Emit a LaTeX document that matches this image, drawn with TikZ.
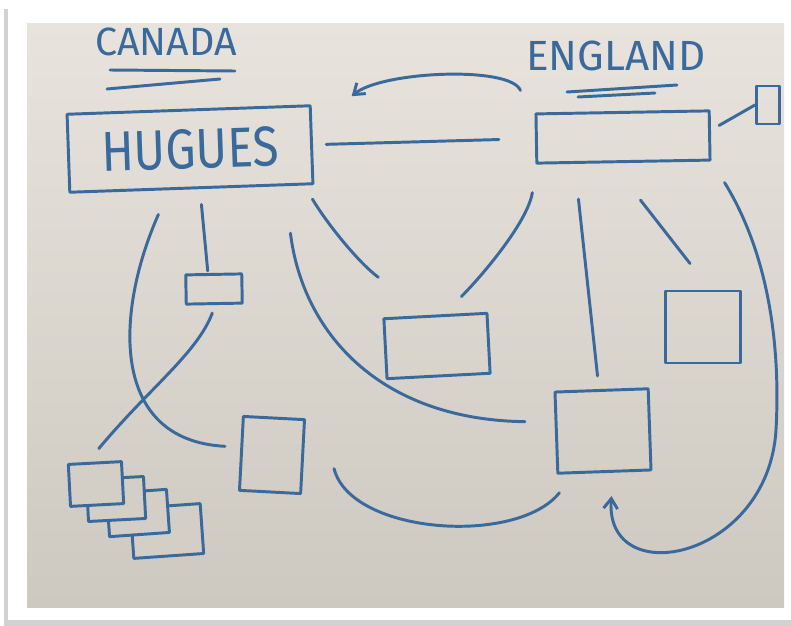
\documentclass[tikz,border=0pt]{standalone}
\usepackage{fontspec}
\setsansfont{Fira Sans}
\usetikzlibrary{arrows.meta, positioning, shadings}
\definecolor{paperlight}{HTML}{E8E3DC}
\definecolor{paperdark}{HTML}{CDC8C0}
\definecolor{paperlow}{HTML}{D3CEC6}
\definecolor{pen}{HTML}{3A6A9C}
\definecolor{framegray}{HTML}{D2D2D2}
\tikzset{sketch/.style={draw=pen, line width=2.1pt, line cap=round, line join=round}}
\tikzset{card/.style 2 args={sketch, minimum width=#1cm, minimum height=#2cm, inner sep=0pt}}
\tikzset{sheet/.style={fill=paperlow}}
\tikzset{country/.style={text=pen, font=\sffamily\fontsize{28}{28}\selectfont}}
\tikzset{bigname/.style={text=pen, font=\sffamily\fontsize{40}{40}\selectfont}}
\tikzset{pentip/.style={-{Straight Barb[length=2.5mm, width=3.5mm]}}}

\begin{document}
\begin{tikzpicture}[x=0.025cm, y=-0.025cm]
\useasboundingbox (0,0) rectangle (791,626);
% photo frame and sheet of paper
\fill[framegray] (4,9) rectangle (791,626);
\fill[white] (8,5) rectangle (791,620);
\shade[top color=paperlight, bottom color=paperdark] (27,23) rectangle (784,607);

% headings
\node[country] (canadalabel) at (166,42) {CANADA};
\node[country, font=\sffamily\fontsize{30}{30}\selectfont] (englandlabel) at (616,56) {ENGLAND};
\draw[sketch] (110,70) -- (235,71);
\draw[sketch] (107,89) -- (220,79);
\draw[sketch] (567,92) -- (677,85);
\draw[sketch] (578,97) -- (655,93);

% boxes
\node[card={6.08}{1.95}, rotate=2, bigname] (hugues) at (190,149) {\scalebox{0.85}[1]{HUGUES}};
\node[card={4.33}{1.23}, rotate=1] (england) at (623,137) {};
\node[card={0.58}{0.95}] (outpost) at (768,105) {};
\node[card={1.4}{0.73}, rotate=1] (relay) at (214,289) {};
\node[card={2.58}{1.5}, rotate=3] (middle) at (437,346) {};
\node[card={1.88}{1.8}] (corner) at (703,327) {};
\node[card={2.33}{2.03}, rotate=2] (hub) at (603,431) {};
\node[card={1.53}{1.85}, rotate=-3] (branch) at (272,455) {};

% stack of sheets, back to front
\node[card={1.75}{1.25}, sheet, rotate=4] (sheet4) at (167,531) {};
\node[card={1.5}{1.08}, sheet, rotate=4] (sheet3) at (138,513) {};
\node[card={1.43}{1.05}, sheet, rotate=3] (sheet2) at (116,499) {};
\node[card={1.33}{1.05}, sheet, rotate=3] (sheet1) at (96,484) {};

% links
\draw[sketch, shorten <=0.33cm, shorten >=0.9cm] (hugues.east) -- (england.west);
\draw[sketch, pentip] ([shift={(-14,-22)}]england.north west) .. controls +(-10,-25) and +(30,-25) .. ([shift={(40,-8)}]hugues.north east);
\draw[sketch] ([shift={(8,-10)}]england.east) -- (outpost.west);
\draw[sketch] ([shift={(10,15)}]hugues.south) -- ([shift={(-6,-2)}]relay.north);
\draw[sketch] ([shift={(-2,8)}]relay.south) .. controls +(-15,40) and +(50,-60) .. ([shift={(4,-13)}]sheet1.north);
\draw[sketch] ([shift={(-33,25)}]hugues.south) .. controls +(-43,97) and +(-116,-6) .. ([shift={(-15,-7)}]branch.west);
\draw[sketch] ([shift={(-24,48)}]hugues.south east) .. controls +(12,98) and +(-147,-2) .. ([shift={(-30,-11)}]hub.west);
\draw[sketch] ([shift={(-2,14)}]hugues.south east) .. controls +(15,25) and +(-20,-15) .. ([shift={(-4,-40)}]middle.north west);
\draw[sketch] ([shift={(-3,28)}]england.south west) .. controls +(-5,30) and +(20,-20) .. ([shift={(26,-18)}]middle.north);
\draw[sketch] ([shift={(-45,36)}]england.south) -- ([shift={(-4,-13)}]hub.north);
\draw[sketch] ([shift={(17,37)}]england.south) -- ([shift={(-13,-26)}]corner.north);
\coordinate (loopfar) at (776,430);
\draw[sketch, pentip] ([shift={(13,21)}]england.south east) .. controls +(42,68) and +(5,-90) .. (loopfar) .. controls +(-8,130) and +(-7,96) .. ([shift={(7,23)}]hub.south);
\draw[sketch] ([shift={(30,12)}]branch.east) .. controls +(17,66) and +(-42,53) .. ([shift={(3,18)}]hub.south west);
\end{tikzpicture}
\end{document}
